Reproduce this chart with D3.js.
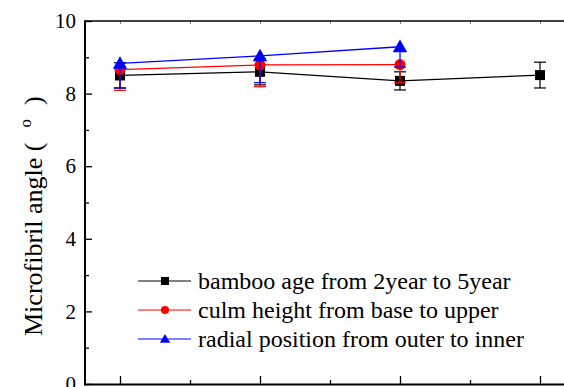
<!DOCTYPE html>
<html><head><meta charset="utf-8">
<script src="https://cdn.jsdelivr.net/npm/d3@7"></script>
<style>body{margin:0;background:#fff;} svg{display:block;}</style>
</head><body>
<svg id="chart" width="564" height="387"></svg>
<script>
const xValues = [1, 2, 3, 4];
const bambooAge = [8.50, 8.60, 8.35, 8.51];
const bambooErr = [0.35, 0.36, 0.25, 0.355];
const culmHeight = [8.66, 8.79, 8.80];
const culmErr = [0.57, 0.60, 0.50];
const radialPosition = [8.83, 9.04, 9.29];
const radialErr = [0.67, 0.74, 0.56];
const yTicks = [0, 2, 4, 6, 8, 10];
const legendLabels = ["bamboo age from 2year to 5year", "culm height from base to upper", "radial position from outer to inner"];

const svg = d3.select("#chart");
const x = d3.scaleLinear().domain([0.75, 4.25]).range([85, 575]);
const y = d3.scaleLinear().domain([0, 10]).range([384, 21]);
const font = '"Liberation Serif"';

const series = [
  {name: legendLabels[0], vals: bambooAge, err: bambooErr, both: true, color: "#000000", shape: "square"},
  {name: legendLabels[1], vals: culmHeight, err: culmErr, both: false, color: "#ff0000", shape: "circle"},
  {name: legendLabels[2], vals: radialPosition, err: radialErr, both: false, color: "#0000ff", shape: "triangle"}
];

function marker(g, shape, cx, cy, s, color) {
  if (shape === "square") g.append("rect").attr("x", cx - s/2).attr("y", cy - s/2).attr("width", s).attr("height", s).attr("fill", color);
  else if (shape === "circle") g.append("circle").attr("cx", cx).attr("cy", cy).attr("r", s/2).attr("fill", color);
  else g.append("path").attr("d", `M${cx},${cy - s*0.6}L${cx + s*0.6},${cy + s*0.45}L${cx - s*0.6},${cy + s*0.45}Z`).attr("fill", color);
}

// axes
const gY = svg.append("g").attr("transform", "translate(85,0)")
  .call(d3.axisLeft(y).tickValues(yTicks).tickSize(-7).tickPadding(9).tickFormat(d3.format("d")));
gY.select(".domain").remove();
gY.selectAll("line").attr("stroke", "#000").attr("stroke-width", 1.3);
gY.selectAll("text").style("font-family", font).style("font-size", "21px").attr("fill", "#000");
const gYm = svg.append("g").attr("transform", "translate(85,0)")
  .call(d3.axisLeft(y).tickValues([1, 3, 5, 7, 9]).tickSize(-4).tickFormat(""));
gYm.select(".domain").remove();
gYm.selectAll("line").attr("stroke", "#000").attr("stroke-width", 1.3);

const gX = svg.append("g").attr("transform", "translate(0,384)")
  .call(d3.axisBottom(x).tickValues(xValues).tickSize(-8).tickFormat(""));
gX.select(".domain").remove();
gX.selectAll("line").attr("stroke", "#000").attr("stroke-width", 1.3);
const gXm = svg.append("g").attr("transform", "translate(0,384)")
  .call(d3.axisBottom(x).tickValues([1.5, 2.5, 3.5]).tickSize(-4).tickFormat(""));
gXm.select(".domain").remove();
gXm.selectAll("line").attr("stroke", "#000").attr("stroke-width", 1.3);

const gT = svg.append("g").attr("transform", "translate(0,21)")
  .call(d3.axisTop(x).tickValues([1, 1.5, 2, 2.5, 3, 3.5, 4]).tickSize(-3).tickFormat(""));
gT.select(".domain").remove();
gT.selectAll("line").attr("stroke", "#888").attr("stroke-width", 1);

svg.append("line").attr("x1", 85).attr("x2", 575).attr("y1", 21).attr("y2", 21).attr("stroke", "#000").attr("stroke-width", 1.6);
svg.append("line").attr("x1", 85).attr("x2", 575).attr("y1", 384.5).attr("y2", 384.5).attr("stroke", "#000").attr("stroke-width", 2);
svg.append("line").attr("x1", 85).attr("x2", 85).attr("y1", 20.2).attr("y2", 385.5).attr("stroke", "#000").attr("stroke-width", 2);

// y label
const lbl = svg.append("text").attr("transform", "translate(42,336) rotate(-90)")
  .attr("text-anchor", "start").style("font-family", font).style("font-size", "26px").attr("fill", "#000");
lbl.append("tspan").text("Microfibril angle (");
lbl.append("tspan").style("font-size", "17px").attr("dx", 15).attr("dy", -11).text("o");
lbl.append("tspan").attr("dx", 14).attr("dy", 11).text(")");

// series
const line = d3.line().x((d, i) => x(xValues[i])).y(d => y(d));
series.forEach(s => {
  const g = svg.append("g");
  g.append("path").datum(s.vals).attr("d", line).attr("fill", "none").attr("stroke", s.color).attr("stroke-width", 1.3);
  s.vals.forEach((v, i) => {
    const cx = x(xValues[i]);
    const top = s.both ? y(v + s.err[i]) : y(v);
    const bot = y(v - s.err[i]);
    g.append("line").attr("x1", cx).attr("x2", cx).attr("y1", top).attr("y2", bot).attr("stroke", s.color).attr("stroke-width", 1.2);
    g.append("line").attr("x1", cx - 6).attr("x2", cx + 6).attr("y1", bot).attr("y2", bot).attr("stroke", s.color).attr("stroke-width", 1.2);
    if (s.both) g.append("line").attr("x1", cx - 6).attr("x2", cx + 6).attr("y1", top).attr("y2", top).attr("stroke", s.color).attr("stroke-width", 1.2);
  });
  s.vals.forEach((v, i) => marker(g, s.shape, x(xValues[i]), y(v), s.shape === "triangle" ? 12 : (s.shape === "circle" ? 11 : 10), s.color));
});

// legend
const lg = svg.append("g");
series.forEach((s, i) => {
  const ly = 281 + i * 29;
  lg.append("line").attr("x1", 138).attr("x2", 191).attr("y1", ly).attr("y2", ly).attr("stroke", s.color).attr("stroke-width", 1.2);
  marker(lg, s.shape, 165, ly, s.shape === "triangle" ? 8.5 : 8, s.color);
  lg.append("text").attr("x", 198).attr("y", ly).attr("dy", "0.35em").style("font-family", font).style("font-size", "24px").attr("fill", "#000").text(s.name);
});
</script>
</body></html>
